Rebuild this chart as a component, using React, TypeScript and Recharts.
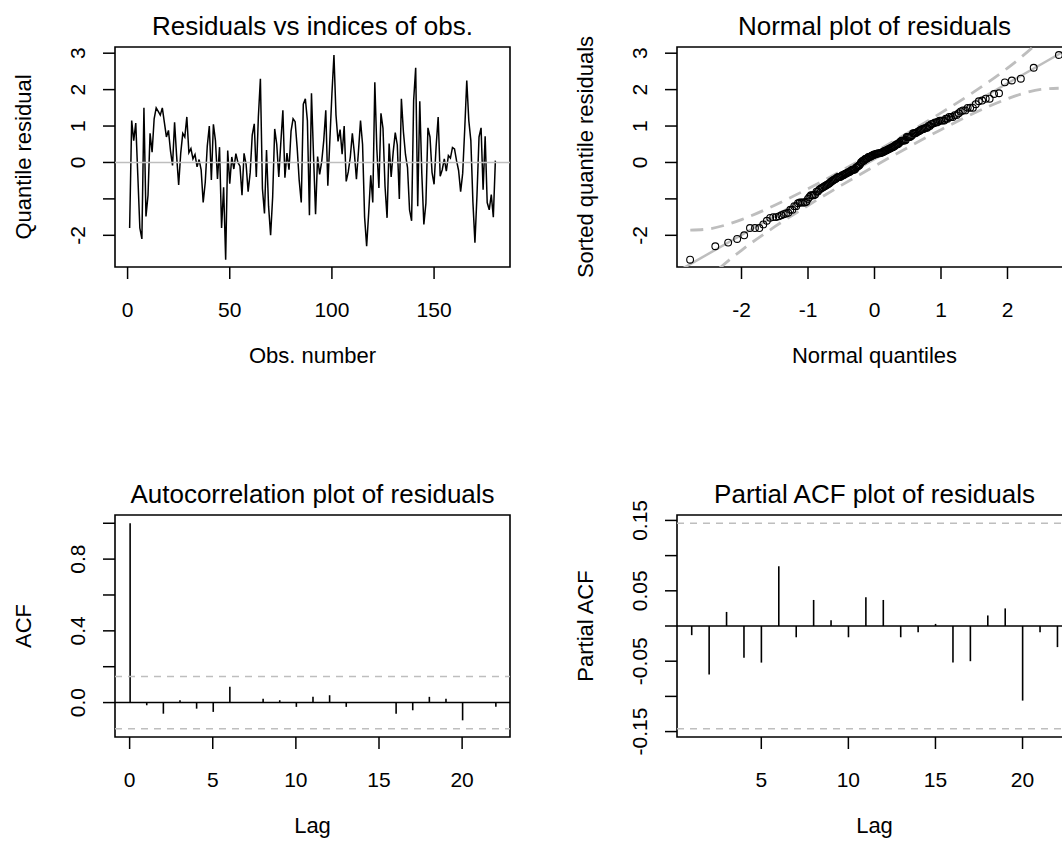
import React from 'react';
import {
  LineChart,
  ComposedChart,
  BarChart,
  Line,
  Scatter,
  Bar,
  XAxis,
  YAxis,
  ReferenceLine,
  ReferenceArea,
} from 'recharts';

const FONT = '"Liberation Sans", Arial, Helvetica, sans-serif';
const GREY = '#BEBEBE';

// ---------- data ----------
const residuals: number[] = [
  -1.8, 1.15, 0.6, 1.08, -0.35, -1.8, -2.1, 1.5, -1.48, -0.9,
  0.8, 0.28, 1.2, 1.5, 1.4, 1.3, 1.5, 1.1, 0.7, 0.88,
  0.32, -0.08, 1.1, 0.18, -0.62, 0.25, 0.8, 0.7, 1.25, 0.27,
  0.38, 0.1, 0.22, -0.12, 0.08, -0.2, -1.1, -0.55, 0.45, 1.0,
  -0.48, 1.05, 0.6, -0.45, 0.42, -1.8, -0.68, -2.67, 0.33, -0.58,
  0.15, -0.18, 0.24, 0.0, -0.1, -0.9, 0.25, -0.05, -0.8, -0.28,
  0.75, 1.06, -0.4, 1.25, 2.3, -0.72, -1.4, 0.34, -1.2, -2.0,
  -0.95, 0.92, 0.5, -0.4, 0.55, 1.43, -0.42, 0.26, -0.2, 0.86,
  1.2, 1.12, 0.4, -0.5, -1.1, 1.6, 1.75, 1.15, -1.45, 1.9,
  0.2, -1.42, 0.16, -0.33, 0.02, 0.6, 1.43, -0.64, 0.62, 1.88,
  2.95, 1.3, 0.58, 0.9, 0.23, 1.0, -0.52, -0.26, 0.15, 0.8,
  0.25, -0.46, 0.31, 1.15, 0.5, -1.5, -2.3, -1.38, -0.35, -1.1,
  2.2, 0.36, -0.7, 1.35, 0.94, -0.66, -1.52, 0.52, -0.4, 0.29,
  0.82, 0.48, -1.0, 1.75, 0.84, 0.22, -0.14, -1.3, -1.6, 1.7,
  2.6, -1.2, 1.68, -0.31, -1.7, -1.12, 0.95, 0.7, -0.27, -0.6,
  0.44, 1.25, -0.38, -0.2, 0.1, -0.24, 0.19, 0.12, 0.41, 0.37,
  0.05, -0.22, -0.8, -0.3, 0.91, 2.25, 1.15, 0.6, -1.08, -2.2,
  -0.9, 0.7, 0.95, -0.75, 0.72, -1.1, -1.3, -0.88, -1.5, 0.05,
];

const obsTicks = [0, 50, 100, 150];
const residYTicks = [-2, -1, 0, 1, 2, 3];
const residYLabeled = [-2, 0, 1, 2, 3];

const qqXTicks = [-2, -1, 0, 1, 2];
const qqLineX = [-2.97, 2.97];
const qqLineY = [-2.999, 3.179];
const qqBandX = [-2.77, -2.5, -2.2, -2.0, -1.5, -1.0, -0.5, 0, 0.5, 1.0, 1.5, 2.0, 2.2, 2.5, 2.77];
const qqBandUpper = [-1.858, -1.827, -1.695, -1.569, -1.176, -0.72, -0.23, 0.281, 0.81, 1.36, 1.944, 2.591, 2.881, 3.373, 3.904];
const qqBandLower = [-3.724, -3.193, -2.701, -2.411, -1.764, -1.18, -0.63, -0.101, 0.41, 0.9, 1.356, 1.749, 1.875, 2.007, 2.038];

const acfLags = [0, 1, 2, 3, 4, 5, 6, 7, 8, 9, 10, 11, 12, 13, 14, 15, 16, 17, 18, 19, 20, 21, 22];
const acfValues = [1.0, -0.015, -0.062, 0.013, -0.034, -0.052, 0.088, 0.003, 0.022, 0.013, -0.024, 0.032, 0.041, -0.024, 0.002, -0.002, -0.062, -0.043, 0.032, 0.022, -0.099, 0.002, -0.024];
const acfXTicks = [0, 5, 10, 15, 20];
const acfYTicks = [0, 0.2, 0.4, 0.6, 0.8, 1.0];
const acfYLabeled = [0, 0.4, 0.8];

const pacfLags = [1, 2, 3, 4, 5, 6, 7, 8, 9, 10, 11, 12, 13, 14, 15, 16, 17, 18, 19, 20, 21, 22];
const pacfValues = [-0.013, -0.069, 0.02, -0.045, -0.052, 0.085, -0.016, 0.037, 0.008, -0.016, 0.041, 0.037, -0.016, -0.009, 0.003, -0.052, -0.05, 0.015, 0.025, -0.106, -0.009, -0.03];
const pacfXTicks = [5, 10, 15, 20];
const pacfYTicks = [-0.15, -0.1, -0.05, 0, 0.05, 0.1, 0.15];
const pacfYLabeled = [-0.15, -0.05, 0.05, 0.15];

const ciBound = 0.146;

// ---------- helpers ----------
function qnorm(p: number): number {
  const a = [-3.969683028665376e1, 2.209460984245205e2, -2.759285104469687e2, 1.38357751867269e2, -3.066479806614716e1, 2.506628277459239];
  const b = [-5.447609879822406e1, 1.615858368580409e2, -1.556989798598866e2, 6.680131188771972e1, -1.328068155288572e1];
  const c = [-7.784894002430293e-3, -3.223964580411365e-1, -2.400758277161838, -2.549732539343734, 4.374664141464968, 2.938163982698783];
  const d = [7.784695709041462e-3, 3.224671290700398e-1, 2.445134137142996, 3.754408661907416];
  const pl = 0.02425;
  if (p < pl) {
    const q = Math.sqrt(-2 * Math.log(p));
    return (((((c[0] * q + c[1]) * q + c[2]) * q + c[3]) * q + c[4]) * q + c[5]) / ((((d[0] * q + d[1]) * q + d[2]) * q + d[3]) * q + 1);
  }
  if (p > 1 - pl) {
    const q = Math.sqrt(-2 * Math.log(1 - p));
    return -(((((c[0] * q + c[1]) * q + c[2]) * q + c[3]) * q + c[4]) * q + c[5]) / ((((d[0] * q + d[1]) * q + d[2]) * q + d[3]) * q + 1);
  }
  const q = p - 0.5;
  const r = q * q;
  return ((((((a[0] * r + a[1]) * r + a[2]) * r + a[3]) * r + a[4]) * r + a[5]) * q) / (((((b[0] * r + b[1]) * r + b[2]) * r + b[3]) * r + b[4]) * r + 1);
}

const residData = residuals.map((y, i) => ({ x: i + 1, y }));
const sortedResid = [...residuals].sort((a, b) => a - b);
const qqPoints = sortedResid.map((y, i) => ({ x: qnorm((i + 0.5) / sortedResid.length), y }));
const qqLineData = qqLineX.map((x, i) => ({ x, y: qqLineY[i] }));
const qqBandData = qqBandX.map((x, i) => ({ x, upper: qqBandUpper[i], lower: qqBandLower[i] }));
const acfData = acfLags.map((lag, i) => ({ lag, v: acfValues[i] }));
const pacfData = pacfLags.map((lag, i) => ({ lag, v: pacfValues[i] }));

const TICK_FS = 21;

const fmtInt = (v: number) => String(v);
const fmt1 = (v: number) => v.toFixed(1);
const fmt2 = (v: number) => v.toFixed(2);

const makeXTick = (fmt: (v: number) => string) => (props: any) => {
  const { x, y, payload } = props;
  return (
    <text x={x} y={y + 38} textAnchor="middle" fontSize={TICK_FS} fontFamily={FONT} fill="#000">
      {fmt(payload.value)}
    </text>
  );
};

const makeYTick = (labeled: number[], fmt: (v: number) => string) => (props: any) => {
  const { x, y, payload } = props;
  if (!labeled.some((v) => Math.abs(v - payload.value) < 1e-9)) return <g />;
  return (
    <text
      transform={`translate(${x - 18},${y}) rotate(-90)`}
      textAnchor="middle"
      fontSize={TICK_FS}
      fontFamily={FONT}
      fill="#000"
    >
      {fmt(payload.value)}
    </text>
  );
};

type Panel = { left: number; top: number; width: number; height: number; L: number; T: number; W: number; H: number };
const X_AXIS_H = 60;
function layout(p: Panel) {
  return {
    margin: {
      top: p.T - p.top,
      right: p.left + p.width - (p.L + p.W),
      bottom: p.top + p.height - (p.T + p.H) - X_AXIS_H,
      left: 0,
    },
    yAxisWidth: p.L - p.left,
  };
}

const tickLineStyle = { stroke: '#000', strokeWidth: 1.5 };

const P1: Panel = { left: 0, top: 0, width: 531, height: 423, L: 115, T: 47, W: 395, H: 220 };
const P2: Panel = { left: 531, top: 0, width: 549, height: 423, L: 677, T: 47, W: 395, H: 220 };
const P3: Panel = { left: 0, top: 423, width: 531, height: 423, L: 115, T: 515, W: 395, H: 222 };
const P4: Panel = { left: 531, top: 423, width: 549, height: 423, L: 677, T: 515, W: 395, H: 222 };

const residXDomain: [number, number] = [-6.16, 187.16];
const residYDomain: [number, number] = [-2.87, 3.17];
const qqXDomain: [number, number] = [-2.97, 2.97];
const acfXDomain: [number, number] = [-0.88, 22.88];
const acfYDomain: [number, number] = [-0.192, 1.046];
const pacfXDomain: [number, number] = [0.16, 22.84];
const pacfYDomain: [number, number] = [-0.1577, 0.1577];

const Box = (xd: [number, number], yd: [number, number]) => (
  <ReferenceArea
    x1={xd[0]}
    x2={xd[1]}
    y1={yd[0]}
    y2={yd[1]}
    fill="none"
    fillOpacity={0}
    stroke="#000"
    strokeWidth={1.6}
    ifOverflow="visible"
  />
);

const abs = (p: Panel): React.CSSProperties => ({ position: 'absolute', left: p.left, top: p.top });

function ResidPanel() {
  const l = layout(P1);
  return (
    <div style={abs(P1)}>
      <LineChart width={P1.width} height={P1.height} data={residData} margin={l.margin}>
        <XAxis
          dataKey="x"
          type="number"
          domain={residXDomain}
          allowDataOverflow
          ticks={obsTicks}
          interval={0}
          height={X_AXIS_H}
          tickSize={12}
          tickMargin={0}
          axisLine={false}
          tickLine={tickLineStyle}
          tick={makeXTick(fmtInt)}
        />
        <YAxis
          type="number"
          domain={residYDomain}
          allowDataOverflow
          ticks={residYTicks}
          interval={0}
          width={l.yAxisWidth}
          tickSize={12}
          tickMargin={0}
          axisLine={false}
          tickLine={tickLineStyle}
          tick={makeYTick(residYLabeled, fmtInt)}
        />
        <Line dataKey="y" type="linear" stroke="#000" strokeWidth={1.5} dot={false} isAnimationActive={false} />
        <ReferenceLine y={0} stroke={GREY} strokeWidth={1.6} />
        {Box(residXDomain, residYDomain)}
      </LineChart>
    </div>
  );
}

function QQPanel() {
  const l = layout(P2);
  return (
    <div style={abs(P2)}>
      <ComposedChart width={P2.width} height={P2.height} margin={l.margin}>
        <XAxis
          dataKey="x"
          type="number"
          domain={qqXDomain}
          allowDataOverflow
          ticks={qqXTicks}
          interval={0}
          height={X_AXIS_H}
          tickSize={12}
          tickMargin={0}
          axisLine={false}
          tickLine={tickLineStyle}
          tick={makeXTick(fmtInt)}
        />
        <YAxis
          type="number"
          domain={residYDomain}
          allowDataOverflow
          ticks={residYTicks}
          interval={0}
          width={l.yAxisWidth}
          tickSize={12}
          tickMargin={0}
          axisLine={false}
          tickLine={tickLineStyle}
          tick={makeYTick(residYLabeled, fmtInt)}
        />
        <Scatter
          data={qqPoints}
          dataKey="y"
          isAnimationActive={false}
          shape={(p: any) => <circle cx={p.cx} cy={p.cy} r={3.4} fill="none" stroke="#000" strokeWidth={1.1} />}
        />
        <Line data={qqLineData} dataKey="y" type="linear" stroke={GREY} strokeWidth={2.5} dot={false} isAnimationActive={false} />
        <Line data={qqBandData} dataKey="upper" type="monotone" stroke={GREY} strokeWidth={2.8} strokeDasharray="13 8" dot={false} isAnimationActive={false} />
        <Line data={qqBandData} dataKey="lower" type="monotone" stroke={GREY} strokeWidth={2.8} strokeDasharray="13 8" dot={false} isAnimationActive={false} />
        {Box(qqXDomain, residYDomain)}
      </ComposedChart>
    </div>
  );
}

function AcfPanel() {
  const l = layout(P3);
  return (
    <div style={abs(P3)}>
      <BarChart width={P3.width} height={P3.height} data={acfData} margin={l.margin}>
        <XAxis
          dataKey="lag"
          type="number"
          domain={acfXDomain}
          allowDataOverflow
          ticks={acfXTicks}
          interval={0}
          height={X_AXIS_H}
          tickSize={12}
          tickMargin={0}
          axisLine={false}
          tickLine={tickLineStyle}
          tick={makeXTick(fmtInt)}
        />
        <YAxis
          type="number"
          domain={acfYDomain}
          allowDataOverflow
          ticks={acfYTicks}
          interval={0}
          width={l.yAxisWidth}
          tickSize={12}
          tickMargin={0}
          axisLine={false}
          tickLine={tickLineStyle}
          tick={makeYTick(acfYLabeled, fmt1)}
        />
        <Bar dataKey="v" fill="#000" barSize={1.6} isAnimationActive={false} />
        <ReferenceLine y={0} stroke="#000" strokeWidth={1.5} />
        <ReferenceLine y={ciBound} stroke={GREY} strokeWidth={1.5} strokeDasharray="7 6" />
        <ReferenceLine y={-ciBound} stroke={GREY} strokeWidth={1.5} strokeDasharray="7 6" />
        {Box(acfXDomain, acfYDomain)}
      </BarChart>
    </div>
  );
}

function PacfPanel() {
  const l = layout(P4);
  return (
    <div style={abs(P4)}>
      <BarChart width={P4.width} height={P4.height} data={pacfData} margin={l.margin}>
        <XAxis
          dataKey="lag"
          type="number"
          domain={pacfXDomain}
          allowDataOverflow
          ticks={pacfXTicks}
          interval={0}
          height={X_AXIS_H}
          tickSize={12}
          tickMargin={0}
          axisLine={false}
          tickLine={tickLineStyle}
          tick={makeXTick(fmtInt)}
        />
        <YAxis
          type="number"
          domain={pacfYDomain}
          allowDataOverflow
          ticks={pacfYTicks}
          interval={0}
          width={l.yAxisWidth}
          tickSize={12}
          tickMargin={0}
          axisLine={false}
          tickLine={tickLineStyle}
          tick={makeYTick(pacfYLabeled, fmt2)}
        />
        <Bar dataKey="v" fill="#000" barSize={1.6} isAnimationActive={false} />
        <ReferenceLine y={0} stroke="#000" strokeWidth={1.5} />
        <ReferenceLine y={ciBound} stroke={GREY} strokeWidth={1.5} strokeDasharray="7 6" />
        <ReferenceLine y={-ciBound} stroke={GREY} strokeWidth={1.5} strokeDasharray="7 6" />
        {Box(pacfXDomain, pacfYDomain)}
      </BarChart>
    </div>
  );
}

const TITLE_FS = 26;
const LABEL_FS = 22;

function Labels() {
  const titles = [
    { text: 'Residuals vs indices of obs.', x: 312.5, y: 34.5 },
    { text: 'Normal plot of residuals', x: 874.5, y: 34.5 },
    { text: 'Autocorrelation plot of residuals', x: 312.5, y: 502.5 },
    { text: 'Partial ACF plot of residuals', x: 874.5, y: 502.5 },
  ];
  const xLabels = [
    { text: 'Obs. number', x: 312.5, y: 363 },
    { text: 'Normal quantiles', x: 874.5, y: 363 },
    { text: 'Lag', x: 312.5, y: 833 },
    { text: 'Lag', x: 874.5, y: 833 },
  ];
  const yLabels = [
    { text: 'Quantile residual', x: 31, y: 157 },
    { text: 'Sorted quantile residuals', x: 593, y: 157 },
    { text: 'ACF', x: 31, y: 626 },
    { text: 'Partial ACF', x: 593, y: 626 },
  ];
  return (
    <svg width={1080} height={846} style={{ position: 'absolute', left: 0, top: 0, pointerEvents: 'none' }}>
      {titles.map((t, i) => (
        <text key={'t' + i} x={t.x} y={t.y} textAnchor="middle" fontSize={TITLE_FS} fontFamily={FONT} fill="#000">
          {t.text}
        </text>
      ))}
      {xLabels.map((t, i) => (
        <text key={'x' + i} x={t.x} y={t.y} textAnchor="middle" fontSize={LABEL_FS} fontFamily={FONT} fill="#000">
          {t.text}
        </text>
      ))}
      {yLabels.map((t, i) => (
        <text
          key={'y' + i}
          transform={`translate(${t.x},${t.y}) rotate(-90)`}
          textAnchor="middle"
          fontSize={LABEL_FS}
          fontFamily={FONT}
          fill="#000"
        >
          {t.text}
        </text>
      ))}
    </svg>
  );
}

export default function App() {
  return (
    <div
      style={{
        position: 'absolute',
        left: 0,
        top: 0,
        width: 1062,
        height: 846,
        overflow: 'hidden',
        background: '#fff',
        fontFamily: FONT,
      }}
    >
      <div style={{ position: 'relative', width: 1080, height: 846 }}>
        <ResidPanel />
        <QQPanel />
        <AcfPanel />
        <PacfPanel />
        <Labels />
      </div>
    </div>
  );
}
